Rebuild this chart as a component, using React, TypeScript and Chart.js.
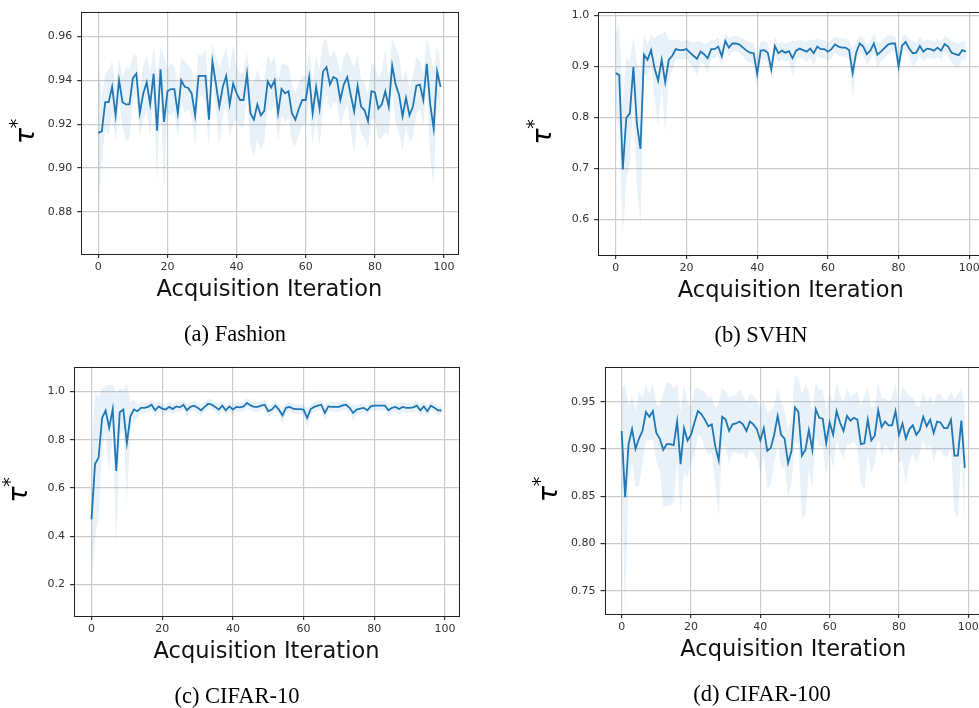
import React, { useEffect, useRef } from "react";
import { Chart, registerables } from "chart.js";

Chart.register(...registerables);

// ---------------- data ----------------
const iterations: number[] = Array.from({ length: 100 }, (_, i) => i);
const xTicks = [0, 20, 40, 60, 80, 100];

const fashionMean = [
  0.916, 0.9167, 0.93, 0.93, 0.937, 0.924, 0.94, 0.93, 0.929, 0.929,
  0.941, 0.943, 0.925, 0.934, 0.939, 0.929, 0.943, 0.917, 0.945, 0.921,
  0.935, 0.936, 0.936, 0.925, 0.94, 0.937, 0.9365, 0.934, 0.924, 0.942,
  0.942, 0.942, 0.922, 0.9486, 0.9385, 0.928, 0.937, 0.942, 0.929, 0.9385,
  0.934, 0.931, 0.931, 0.943, 0.925, 0.922, 0.929, 0.924, 0.926, 0.9395,
  0.9367, 0.94, 0.925, 0.936, 0.934, 0.935, 0.925, 0.922, 0.927, 0.931,
  0.931, 0.9414, 0.925, 0.937, 0.927, 0.944, 0.946, 0.938, 0.9415, 0.9406,
  0.931, 0.938, 0.9414, 0.9334, 0.9258, 0.9375, 0.928, 0.9263, 0.9214, 0.935,
  0.9345, 0.927, 0.929, 0.935, 0.928, 0.9467, 0.938, 0.9333, 0.9236, 0.932,
  0.924, 0.928, 0.9375, 0.938, 0.931, 0.9475, 0.929, 0.918, 0.944, 0.937,
];
const fashionStd = [
  0.033, 0.014, 0.013, 0.015, 0.012, 0.012, 0.01, 0.011, 0.017, 0.016,
  0.01, 0.009, 0.011, 0.012, 0.013, 0.014, 0.012, 0.024, 0.01, 0.03,
  0.01, 0.012, 0.01, 0.012, 0.01, 0.012, 0.01, 0.011, 0.014, 0.01,
  0.009, 0.012, 0.013, 0.008, 0.012, 0.018, 0.013, 0.013, 0.015, 0.018,
  0.012, 0.012, 0.013, 0.01, 0.014, 0.017, 0.016, 0.016, 0.014, 0.012,
  0.011, 0.011, 0.013, 0.012, 0.013, 0.012, 0.013, 0.012, 0.012, 0.011,
  0.011, 0.012, 0.014, 0.014, 0.018, 0.014, 0.013, 0.012, 0.012, 0.011,
  0.012, 0.013, 0.012, 0.016, 0.02, 0.014, 0.012, 0.013, 0.012, 0.013,
  0.012, 0.014, 0.015, 0.019, 0.013, 0.012, 0.017, 0.018, 0.016, 0.013,
  0.012, 0.014, 0.013, 0.011, 0.012, 0.011, 0.024, 0.026, 0.012, 0.01,
];

const svhnMean = [
  0.887, 0.883, 0.698, 0.799, 0.808, 0.899, 0.787, 0.738, 0.923, 0.913,
  0.932, 0.896, 0.872, 0.913, 0.869, 0.913, 0.921, 0.934, 0.932, 0.932,
  0.934, 0.927, 0.921, 0.915, 0.929, 0.924, 0.916, 0.934, 0.934, 0.939,
  0.92, 0.95, 0.937, 0.945, 0.945, 0.943, 0.937, 0.931, 0.927, 0.926,
  0.886, 0.931, 0.932, 0.927, 0.894, 0.94, 0.926, 0.931, 0.927, 0.93,
  0.916, 0.931, 0.935, 0.932, 0.929, 0.935, 0.926, 0.939, 0.934, 0.934,
  0.929, 0.934, 0.943, 0.939, 0.937, 0.937, 0.932, 0.887, 0.927, 0.945,
  0.939, 0.924, 0.931, 0.945, 0.923, 0.929, 0.936, 0.943, 0.945, 0.945,
  0.9, 0.941, 0.948, 0.935, 0.926, 0.927, 0.94, 0.929, 0.935, 0.934,
  0.931, 0.937, 0.931, 0.944, 0.939, 0.927, 0.924, 0.922, 0.932, 0.929,
];
const svhnStd = [
  0.08, 0.1, 0.13, 0.12, 0.1, 0.06, 0.12, 0.15, 0.04, 0.03,
  0.03, 0.06, 0.09, 0.05, 0.1, 0.04, 0.03, 0.02, 0.018, 0.018,
  0.018, 0.022, 0.025, 0.035, 0.02, 0.02, 0.03, 0.018, 0.018, 0.018,
  0.02, 0.015, 0.018, 0.015, 0.015, 0.015, 0.018, 0.02, 0.02, 0.02,
  0.03, 0.018, 0.018, 0.018, 0.02, 0.018, 0.018, 0.018, 0.018, 0.018,
  0.035, 0.018, 0.018, 0.018, 0.02, 0.018, 0.025, 0.018, 0.018, 0.018,
  0.018, 0.018, 0.015, 0.018, 0.018, 0.018, 0.02, 0.05, 0.02, 0.015,
  0.018, 0.02, 0.02, 0.018, 0.025, 0.018, 0.02, 0.018, 0.015, 0.015,
  0.025, 0.018, 0.015, 0.018, 0.025, 0.02, 0.018, 0.02, 0.018, 0.018,
  0.018, 0.018, 0.018, 0.015, 0.018, 0.02, 0.025, 0.022, 0.018, 0.018,
];

const cifar10Mean = [
  0.47, 0.699, 0.726, 0.89, 0.921, 0.849, 0.927, 0.671, 0.914, 0.925,
  0.785, 0.897, 0.925, 0.918, 0.932, 0.932, 0.936, 0.945, 0.922, 0.938,
  0.929, 0.925, 0.936, 0.927, 0.938, 0.934, 0.945, 0.922, 0.936, 0.941,
  0.932, 0.922, 0.936, 0.949, 0.945, 0.936, 0.925, 0.941, 0.922, 0.938,
  0.925, 0.936, 0.934, 0.938, 0.952, 0.942, 0.936, 0.936, 0.941, 0.945,
  0.918, 0.925, 0.941, 0.925, 0.901, 0.932, 0.936, 0.929, 0.927, 0.927,
  0.925, 0.89, 0.927, 0.936, 0.941, 0.945, 0.911, 0.938, 0.936, 0.936,
  0.936, 0.942, 0.945, 0.932, 0.911, 0.925, 0.929, 0.932, 0.922, 0.938,
  0.941, 0.941, 0.941, 0.941, 0.922, 0.932, 0.936, 0.927, 0.936, 0.932,
  0.932, 0.934, 0.941, 0.922, 0.938, 0.918, 0.941, 0.932, 0.922, 0.921,
];
const cifar10Std = [
  0.27, 0.3, 0.25, 0.12, 0.1, 0.18, 0.1, 0.32, 0.1, 0.08,
  0.25, 0.06, 0.04, 0.03, 0.025, 0.02, 0.02, 0.02, 0.03, 0.02,
  0.02, 0.02, 0.02, 0.02, 0.02, 0.02, 0.02, 0.025, 0.02, 0.02,
  0.02, 0.025, 0.02, 0.02, 0.02, 0.02, 0.025, 0.02, 0.02, 0.02,
  0.02, 0.02, 0.02, 0.02, 0.02, 0.02, 0.02, 0.02, 0.02, 0.02,
  0.025, 0.02, 0.02, 0.02, 0.035, 0.02, 0.02, 0.02, 0.02, 0.02,
  0.02, 0.04, 0.02, 0.02, 0.02, 0.02, 0.03, 0.02, 0.02, 0.02,
  0.02, 0.02, 0.02, 0.02, 0.035, 0.02, 0.02, 0.02, 0.02, 0.02,
  0.02, 0.02, 0.02, 0.02, 0.025, 0.02, 0.02, 0.025, 0.02, 0.02,
  0.02, 0.02, 0.02, 0.025, 0.02, 0.025, 0.02, 0.02, 0.02, 0.02,
];

const cifar100Mean = [
  0.919, 0.849, 0.905, 0.921, 0.9, 0.911, 0.919, 0.939, 0.934, 0.94,
  0.917, 0.911, 0.899, 0.905, 0.905, 0.904, 0.929, 0.884, 0.922, 0.909,
  0.915, 0.928, 0.94, 0.937, 0.931, 0.924, 0.926, 0.903, 0.888, 0.934,
  0.931, 0.919, 0.926, 0.927, 0.929, 0.926, 0.919, 0.929, 0.926, 0.921,
  0.909, 0.922, 0.898, 0.901, 0.915, 0.935, 0.915, 0.911, 0.885, 0.898,
  0.944, 0.939, 0.893, 0.899, 0.92, 0.899, 0.942, 0.933, 0.932, 0.906,
  0.928, 0.915, 0.94, 0.928, 0.919, 0.935, 0.93, 0.933, 0.931, 0.905,
  0.906, 0.931, 0.909, 0.914, 0.941, 0.923, 0.929, 0.925, 0.925, 0.94,
  0.915, 0.927, 0.911, 0.921, 0.925, 0.915, 0.92, 0.934, 0.924, 0.931,
  0.917, 0.929, 0.928, 0.922, 0.922, 0.931, 0.893, 0.893, 0.93, 0.88,
];
const cifar100Std = [
  0.045, 0.12, 0.04, 0.035, 0.04, 0.05, 0.035, 0.03, 0.025, 0.03,
  0.03, 0.035, 0.06, 0.065, 0.065, 0.06, 0.04, 0.055, 0.045, 0.04,
  0.03, 0.035, 0.025, 0.025, 0.03, 0.03, 0.03, 0.04, 0.06, 0.03,
  0.03, 0.035, 0.03, 0.03, 0.035, 0.03, 0.03, 0.03, 0.03, 0.03,
  0.035, 0.03, 0.04, 0.04, 0.03, 0.03, 0.035, 0.03, 0.035, 0.035,
  0.035, 0.035, 0.065, 0.07, 0.04, 0.04, 0.03, 0.03, 0.03, 0.035,
  0.03, 0.035, 0.03, 0.03, 0.03, 0.03, 0.025, 0.025, 0.03, 0.04,
  0.05, 0.035, 0.035, 0.03, 0.03, 0.03, 0.025, 0.025, 0.03, 0.03,
  0.03, 0.04, 0.05, 0.035, 0.03, 0.03, 0.025, 0.025, 0.025, 0.025,
  0.03, 0.03, 0.03, 0.03, 0.03, 0.03, 0.06, 0.065, 0.035, 0.065,
];

const fashionYTicks = [0.88, 0.9, 0.92, 0.94, 0.96];
const svhnYTicks = [0.6, 0.7, 0.8, 0.9, 1.0];
const cifar10YTicks = [0.2, 0.4, 0.6, 0.8, 1.0];
const cifar100YTicks = [0.75, 0.8, 0.85, 0.9, 0.95];

const xTitle = "Acquisition Iteration";
const captions = ["(a) Fashion", "(b) SVHN", "(c) CIFAR-10", "(d) CIFAR-100"];

// ---------------- layout ----------------
type Panel = {
  mean: number[];
  std: number[];
  yTicks: number[];
  yDecimals: number;
  yMin: number;
  yMax: number;
  caption: string;
  box: { left: number; top: number; right: number; bottom: number };
  canvas: { x: number; y: number; w: number; h: number };
  captionX: number;
};

const panels: Panel[] = [
  {
    mean: fashionMean, std: fashionStd, yTicks: fashionYTicks, yDecimals: 2,
    yMin: 0.8608, yMax: 0.9713, caption: captions[0],
    box: { left: 81.2, top: 6.7, right: 457.7, bottom: 254 },
    canvas: { x: 0, y: 0, w: 480, h: 352 }, captionX: 235,
  },
  {
    mean: svhnMean, std: svhnStd, yTicks: svhnYTicks, yDecimals: 1,
    yMin: 0.53, yMax: 1.0076, caption: captions[1],
    box: { left: 598.2, top: 4.7, right: 983.3, bottom: 255 },
    canvas: { x: 490, y: 0, w: 500, h: 352 }, captionX: 761,
  },
  {
    mean: cifar10Mean, std: cifar10Std, yTicks: cifar10YTicks, yDecimals: 1,
    yMin: 0.0695, yMax: 1.1029, caption: captions[2],
    box: { left: 74, top: 365, right: 459, bottom: 616 },
    canvas: { x: 0, y: 355, w: 480, h: 353 }, captionX: 237,
  },
  {
    mean: cifar100Mean, std: cifar100Std, yTicks: cifar100YTicks, yDecimals: 2,
    yMin: 0.7253, yMax: 0.9864, caption: captions[3],
    box: { left: 604.5, top: 367.3, right: 982, bottom: 614 },
    canvas: { x: 490, y: 355, w: 500, h: 353 }, captionX: 762,
  },
];

const BLUE = "#1f77b4";
const BAND = "rgba(31,119,180,0.1)";
const Y_W = 40;
const X_H = 30;

function drawRotGlyph(ctx: CanvasRenderingContext2D, text: string, font: string, cx: number, cy: number) {
  ctx.save();
  ctx.translate(cx, cy);
  ctx.rotate(-Math.PI / 2);
  ctx.font = font;
  ctx.textAlign = "left";
  ctx.textBaseline = "alphabetic";
  const m = ctx.measureText(text);
  const x = -(m.actualBoundingBoxRight - m.actualBoundingBoxLeft) / 2;
  const y = -(m.actualBoundingBoxDescent - m.actualBoundingBoxAscent) / 2;
  ctx.fillStyle = "#000";
  ctx.fillText(text, x, y);
  ctx.restore();
}

function PanelChart({ p }: { p: Panel }) {
  const ref = useRef<HTMLCanvasElement>(null);
  useEffect(() => {
    const c = ref.current!;
    const L = p.box.left - p.canvas.x;
    const T = p.box.top - p.canvas.y;
    const R = p.box.right - p.canvas.x;
    const B = p.box.bottom - p.canvas.y;

    const decor = {
      id: "decor" + p.caption,
      afterDraw(chart: any) {
        const ctx: CanvasRenderingContext2D = chart.ctx;
        const a = chart.chartArea;
        ctx.save();
        // frame
        ctx.strokeStyle = "#222";
        ctx.lineWidth = 1;
        ctx.strokeRect(Math.round(a.left) + 0.5, Math.round(a.top) + 0.5,
          Math.round(a.right) - Math.round(a.left), Math.round(a.bottom) - Math.round(a.top));
        // x title
        ctx.fillStyle = "#111";
        ctx.font = '22.5px "DejaVu Sans"';
        ctx.textAlign = "center";
        ctx.textBaseline = "alphabetic";
        ctx.fillText(xTitle, (a.left + a.right) / 2, a.bottom + 41.5);
        // y label tau*
        const midY = (a.top + a.bottom) / 2;
        drawRotGlyph(ctx, "τ", 'italic 27px "DejaVu Sans"', a.left - 55, midY + 2);
        drawRotGlyph(ctx, "*", '19px "DejaVu Sans"', a.left - 68, midY - 9);
        // caption
        ctx.fillStyle = "#000";
        ctx.font = '22.5px "Liberation Serif"';
        ctx.textAlign = "center";
        ctx.textBaseline = "alphabetic";
        ctx.fillText(p.caption, p.captionX - p.canvas.x, a.bottom + 86.7);
        ctx.restore();
      },
    };

    const lineCommon = { pointRadius: 0, pointHoverRadius: 0, tension: 0 };
    const chart = new Chart(c, {
      type: "line",
      data: {
        datasets: [
          {
            ...lineCommon,
            data: iterations.map((x, i) => ({ x, y: p.mean[i] })),
            borderColor: BLUE,
            borderWidth: 1.8,
            fill: false,
          },
          {
            ...lineCommon,
            data: iterations.map((x, i) => ({ x, y: p.mean[i] + p.std[i] })),
            borderColor: "rgba(0,0,0,0)",
            borderWidth: 1,
            backgroundColor: BAND,
            fill: "+1",
          },
          {
            ...lineCommon,
            data: iterations.map((x, i) => ({ x, y: p.mean[i] - p.std[i] })),
            borderColor: "rgba(0,0,0,0)",
            borderWidth: 1,
            fill: false,
          },
        ],
      },
      options: {
        animation: false,
        responsive: false,
        events: [],
        layout: {
          padding: { left: L - Y_W, top: T, right: p.canvas.w - R, bottom: p.canvas.h - B - X_H },
        },
        plugins: { legend: { display: false }, tooltip: { enabled: false } },
        scales: {
          x: {
            type: "linear",
            min: -4.95,
            max: 103.95,
            bounds: "data",
            afterBuildTicks: (s: any) => { s.ticks = xTicks.map((v) => ({ value: v })); },
            afterFit: (s: any) => { s.height = X_H; },
            ticks: {
              color: "#333",
              font: { family: "DejaVu Sans", size: 11 },
              padding: 3,
              maxRotation: 0,
              autoSkip: false,
              callback: (v: any) => String(v),
            },
            grid: { color: "#cccccc", lineWidth: 1.2, tickColor: "#333", tickLength: 4, drawTicks: true },
            border: { display: false },
          },
          y: {
            type: "linear",
            min: p.yMin,
            max: p.yMax,
            bounds: "data",
            afterBuildTicks: (s: any) => { s.ticks = p.yTicks.map((v) => ({ value: v })); },
            afterFit: (s: any) => { s.width = Y_W; },
            ticks: {
              color: "#333",
              font: { family: "DejaVu Sans", size: 11 },
              padding: 5,
              autoSkip: false,
              callback: (v: any) => Number(v).toFixed(p.yDecimals),
            },
            grid: { color: "#cccccc", lineWidth: 1.2, tickColor: "#333", tickLength: 4, drawTicks: true },
            border: { display: false },
          },
        },
      },
      plugins: [decor],
    } as any);
    return () => chart.destroy();
  }, [p]);

  return (
    <canvas
      ref={ref}
      width={p.canvas.w}
      height={p.canvas.h}
      style={{
        position: "absolute",
        left: p.canvas.x,
        top: p.canvas.y,
        width: p.canvas.w,
        height: p.canvas.h,
      }}
    />
  );
}

export default function App() {
  return (
    <div
      style={{
        position: "absolute",
        left: 0,
        top: 0,
        width: 979,
        height: 708,
        overflow: "hidden",
        background: "#fff",
      }}
    >
      {panels.map((p, i) => (
        <PanelChart key={i} p={p} />
      ))}
    </div>
  );
}
